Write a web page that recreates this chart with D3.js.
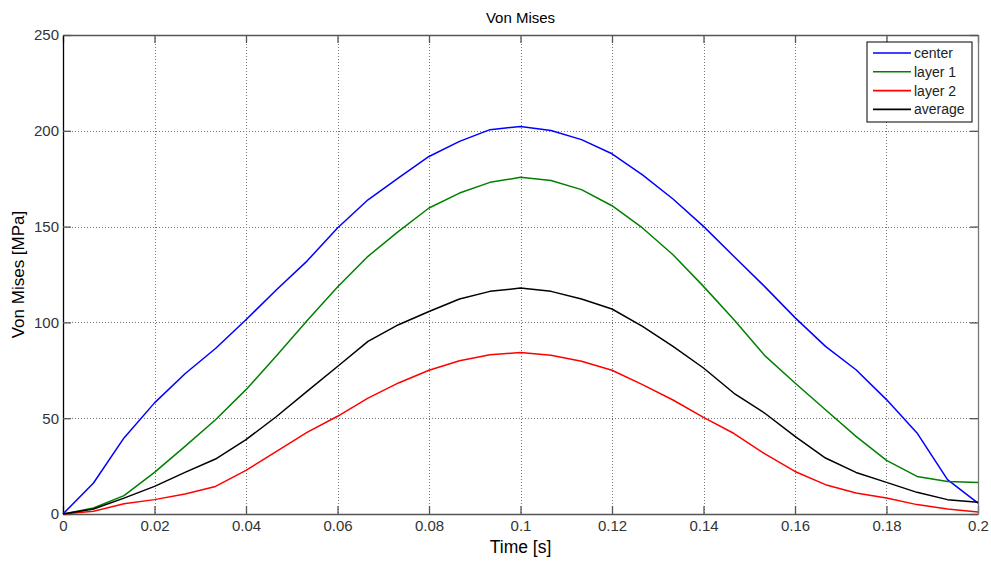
<!DOCTYPE html>
<html>
<head>
<meta charset="utf-8">
<script src="https://cdn.jsdelivr.net/npm/d3@7"></script>
<style>
  html, body { margin: 0; padding: 0; background: #fff; }
  svg { display: block; font-family: "Liberation Sans", Arial, sans-serif; }
</style>
</head>
<body>
<svg id="chart" width="991" height="561"></svg>
<script>
// Time samples: 31 steps of 1/150 s from 0 to 0.2 s
const timeSteps = d3.range(31).map(k => k / 150);

// Von Mises stress [MPa] per location
const center = [0, 16.2, 39.7, 58.0, 73.2, 86.4, 101.4, 117.0, 132.0, 149.3, 164.0, 175.4, 186.6, 194.5, 200.6, 202.3,
  200.2, 195.4, 188.0, 177.0, 164.4, 150.1, 134.4, 118.8, 102.5, 87.5, 75.3, 59.7, 42.3, 17.9, 5.7];
const layer1 = [0, 3.1, 9.6, 21.7, 35.3, 49.2, 64.9, 82.6, 100.8, 118.5, 134.5, 147.5, 159.7, 167.5, 173.1, 175.7,
  174.1, 169.3, 160.9, 149.3, 135.3, 118.8, 101.4, 82.8, 68.4, 54.4, 40.5, 28.0, 19.6, 17.0, 16.5];
const layer2 = [0, 1.4, 5.4, 7.5, 10.4, 14.4, 22.8, 32.7, 42.6, 51.0, 60.5, 68.4, 75.0, 80.0, 83.1, 84.3,
  82.8, 79.7, 75.0, 67.5, 59.5, 50.4, 42.0, 31.5, 22.2, 15.3, 11.0, 8.3, 4.9, 2.6, 1.0];
const average = [0, 2.6, 8.3, 14.4, 21.7, 28.7, 38.8, 50.9, 64.0, 77.0, 90.1, 98.8, 105.7, 112.2, 116.2, 117.9,
  116.2, 112.2, 107.0, 97.9, 87.5, 76.2, 63.0, 52.7, 40.5, 29.2, 21.7, 16.5, 11.3, 7.5, 6.1];

const seriesNames = ["center", "layer 1", "layer 2", "average"];
const seriesColors = ["#0000ff", "#008000", "#ff0000", "#000000"];
const seriesValues = [center, layer1, layer2, average];

const xTicks = [0, 0.02, 0.04, 0.06, 0.08, 0.1, 0.12, 0.14, 0.16, 0.18, 0.2];
const yTicks = [0, 50, 100, 150, 200, 250];

const svg = d3.select("#chart");
const margin = { left: 63, right: 13, top: 35, bottom: 47 };
const W = 991, H = 561;
const iw = W - margin.left - margin.right;
const ih = H - margin.top - margin.bottom;

const x = d3.scaleLinear().domain([0, 0.2]).range([margin.left, margin.left + iw]);
const y = d3.scaleLinear().domain([0, 250]).range([margin.top + ih, margin.top]);

const g = svg.append("g");

// dotted grid
g.append("g").selectAll("line.gx").data(xTicks.slice(1, -1)).join("line")
  .attr("x1", d => Math.round(x(d)) + 0.5).attr("x2", d => Math.round(x(d)) + 0.5)
  .attr("y1", y(250)).attr("y2", y(0))
  .attr("stroke", "#777").attr("stroke-width", 1).attr("stroke-dasharray", "1,2");
g.append("g").selectAll("line.gy").data(yTicks.slice(1, -1)).join("line")
  .attr("y1", d => Math.round(y(d)) + 0.5).attr("y2", d => Math.round(y(d)) + 0.5)
  .attr("x1", x(0)).attr("x2", x(0.2))
  .attr("stroke", "#777").attr("stroke-width", 1).attr("stroke-dasharray", "1,2");

// axes (ticks point inward)
const fmtX = d => d === 0 ? "0" : d3.format("~g")(d);
const xAxisB = d3.axisBottom(x).tickValues(xTicks).tickFormat(fmtX).tickSizeInner(-8).tickSizeOuter(0).tickPadding(6);
const xAxisT = d3.axisTop(x).tickValues(xTicks).tickFormat("").tickSizeInner(-8).tickSizeOuter(0);
const yAxisL = d3.axisLeft(y).tickValues(yTicks).tickSizeInner(-8).tickSizeOuter(0).tickPadding(4);
const yAxisR = d3.axisRight(y).tickValues(yTicks).tickFormat("").tickSizeInner(-8).tickSizeOuter(0);

function styleAxis(sel, col) {
  sel.select(".domain").attr("stroke", col).attr("stroke-width", 1.3);
  sel.selectAll(".tick line").attr("stroke", "#555").attr("stroke-width", 1.3);
  sel.selectAll(".tick text").attr("fill", "#333").style("font-size", "15px")
     .style("font-family", "'Liberation Sans', Arial, sans-serif");
}

const gxB = g.append("g").attr("transform", `translate(0,${y(0)})`).call(xAxisB);
styleAxis(gxB, "#555");
const gxT = g.append("g").attr("transform", `translate(0,${y(250)})`).call(xAxisT);
styleAxis(gxT, "#555");
const gyR = g.append("g").attr("transform", `translate(${x(0.2)},0)`).call(yAxisR);
styleAxis(gyR, "#777");
const gyL = g.append("g").attr("transform", `translate(${x(0)},0)`).call(yAxisL);
styleAxis(gyL, "#000");

// data lines
const line = d3.line().x((d, i) => x(timeSteps[i])).y(d => y(d));
g.append("g").selectAll("path.series").data(seriesValues).join("path")
  .attr("d", d => line(d))
  .attr("fill", "none")
  .attr("stroke", (d, i) => seriesColors[i])
  .attr("stroke-width", 1.5)
  .attr("stroke-linejoin", "round");

// title and axis labels
svg.append("text").attr("x", x(0.1)).attr("y", 23).attr("text-anchor", "middle")
  .style("font-size", "15px").attr("fill", "#000").text("Von Mises");
svg.append("text").attr("x", x(0.1)).attr("y", 553).attr("text-anchor", "middle")
  .style("font-size", "17.5px").attr("fill", "#000").text("Time [s]");
svg.append("text").attr("transform", `translate(24,${y(125)}) rotate(-90)`).attr("text-anchor", "middle")
  .style("font-size", "17px").attr("fill", "#000").text("Von Mises [MPa]");

// legend
const lg = svg.append("g").attr("transform", "translate(867,42)");
lg.append("rect").attr("x", 0).attr("y", 0).attr("width", 105).attr("height", 80)
  .attr("fill", "#fff").attr("stroke", "#000").attr("stroke-width", 1);
const rows = lg.selectAll("g.row").data(seriesNames).join("g")
  .attr("transform", (d, i) => `translate(0,${11 + i * 18.8})`);
rows.append("line").attr("x1", 6).attr("x2", 44).attr("y1", 0).attr("y2", 0)
  .attr("stroke", (d, i) => seriesColors[i]).attr("stroke-width", 1.6);
rows.append("text").attr("x", 47).attr("y", 5).style("font-size", "14px").attr("fill", "#222").text(d => d);
</script>
</body>
</html>
